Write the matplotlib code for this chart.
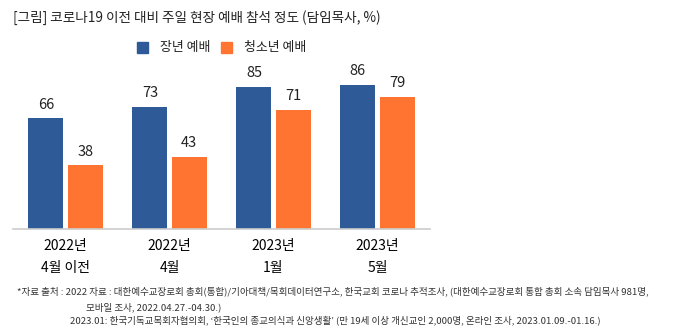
import numpy as np
from matplotlib import pyplot as plt
from matplotlib.patches import Rectangle

plt.rcParams['font.family'] = ['Noto Sans CJK KR', 'DejaVu Sans']

# data
categories = ['2022년\n4월 이전', '2022년\n4월', '2023년\n1월', '2023년\n5월']
adult = [66, 73, 85, 86]
youth = [38, 43, 71, 79]
series_names = ['장년 예배', '청소년 예배']
title = '[그림] 코로나19 이전 대비 주일 현장 예배 참석 정도 (담임목사, %)'
notes = ['*자료 출처 : 2022 자료 : 대한예수교장로회 총회(통합)/기아대책/목회데이터연구소, 한국교회 코로나 추적조사, (대한예수교장로회 통합 총회 소속 담임목사 981명,',
         '모바일 조사, 2022.04.27.-04.30.)',
         '2023.01: 한국기독교목회자협의회, \u2018한국인의 종교의식과 신앙생활\u2019 (만 19세 이상 개신교인 2,000명, 온라인 조사, 2023.01.09.-01.16.)']

blue = '#2E5B98'
orange = '#FF7430'

W, H = 673, 336
fig = plt.figure(figsize=(W/100, H/100), dpi=100)
# axes: x from 13 to 430 px, baseline at y=229, 100 units = 167.5 px
ax = fig.add_axes([13/W, (H-229)/H, (430-13)/W, 167.5/H])

x = np.arange(len(categories))
w = 0.337
off = w/2 + 0.02
b1 = ax.bar(x - off, adult, w, color=blue)
b2 = ax.bar(x + off, youth, w, color=orange)
for bars, vals in ((b1, adult), (b2, youth)):
    for r, v in zip(bars, vals):
        ax.text(r.get_x()+r.get_width()/2, v+4, str(v), ha='center', va='bottom',
                fontsize=10.5, color='#222222')

ax.set_xlim(-0.505, 3.505)
ax.set_ylim(0, 100)
ax.set_yticks([])
ax.set_xticks(x)
ax.set_xticklabels(categories, fontsize=10, fontweight='medium', linespacing=1.75)
ax.tick_params(axis='x', length=0, pad=7)
for s in ['top', 'right', 'left']:
    ax.spines[s].set_visible(False)
ax.spines['bottom'].set_color('#CCCCCC')
ax.spines['bottom'].set_linewidth(1.2)

fig.text(13/W, 1-18/H, title, fontsize=9.8, va='center', ha='left', color='#222222')

# legend
for name, col, xs in zip(series_names, [blue, orange], [137, 221]):
    fig.patches.append(Rectangle((xs/W, 1-53/H), 11/W, 11/H, color=col,
                                 transform=fig.transFigure))
    fig.text((xs+23)/W, 1-47.5/H, name, fontsize=9.3, va='center', ha='left', color='#222222')

fig.text(17/W, 1-291/H, notes[0], fontsize=6.9, va='center', ha='left', color='#333333')
fig.text(86/W, 1-307/H, notes[1], fontsize=6.9, va='center', ha='left', color='#333333')
fig.text(70/W, 1-320/H, notes[2], fontsize=6.9, va='center', ha='left', color='#333333')

fig.savefig('out.png', dpi=100)
